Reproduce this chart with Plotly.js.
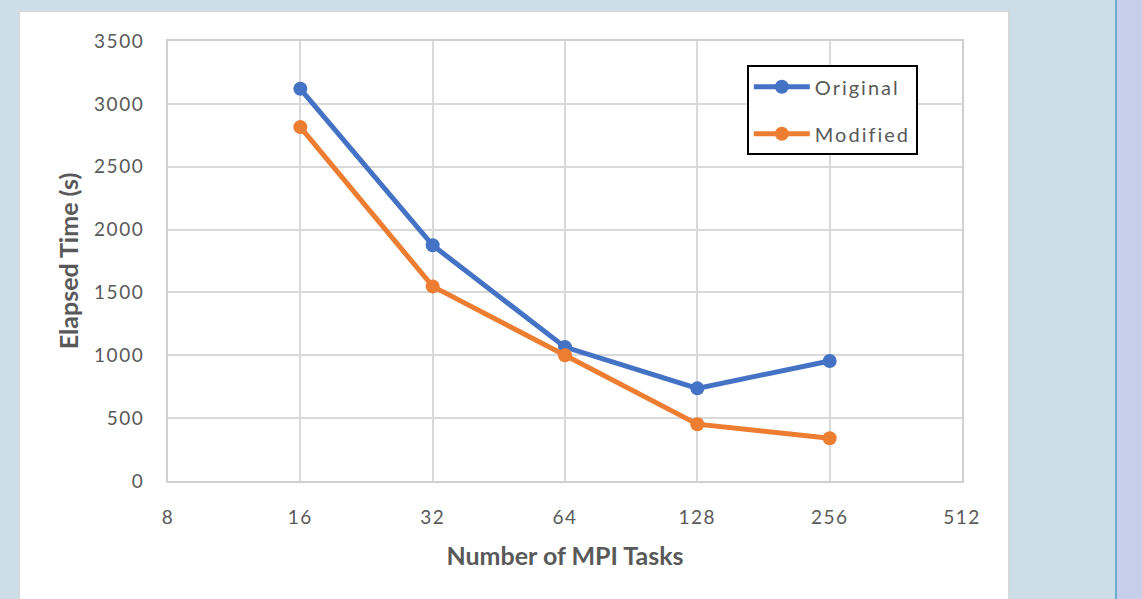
<!DOCTYPE html>
<html>
<head>
<meta charset="utf-8">
<script src="https://cdn.plot.ly/plotly-3.0.1.min.js"></script>
<style>
  html, body { margin: 0; padding: 0; }
  body { width: 1142px; height: 599px; background: #cddee8; position: relative; overflow: hidden; }
  #panel { position: absolute; left: 19px; top: 11px; width: 990px; height: 600px; background: #ffffff; border: 1px solid #d6d6d6; box-sizing: border-box; }
  #edge { position: absolute; left: 1115px; top: 0; width: 2px; height: 599px; background: #6aaed0; }
  #side { position: absolute; left: 1117px; top: 0; width: 25px; height: 599px; background: #c5cfea; }
  #chart { position: absolute; left: 0; top: 0; width: 1142px; height: 599px; }
  .xtick text, .ytick text { letter-spacing: 1.5px; }
  .legendtext { letter-spacing: 2px; }
</style>
</head>
<body>
<div id="panel"></div>
<div id="edge"></div>
<div id="side"></div>
<div id="chart"></div>
<script>
const tasks = [16, 32, 64, 128, 256];
const original = [3120, 1875, 1065, 737, 955];
const modified = [2815, 1548, 1000, 452, 340];
const xTickVals = [8, 16, 32, 64, 128, 256, 512];
const xTickText = ['8', '16', '32', '64', '128', '256', '512'];
const yTickVals = [0, 500, 1000, 1500, 2000, 2500, 3000, 3500];

const gray = '#595959';
const fontFam = 'Lato, "Open Sans", sans-serif';

const traces = [
  { x: tasks, y: original, name: 'Original', type: 'scatter', mode: 'lines+markers',
    line: { color: '#4472c4', width: 5 }, marker: { color: '#4472c4', size: 14 }, legendgroup: 'a' },
  { x: tasks, y: modified, name: 'Modified', type: 'scatter', mode: 'lines+markers',
    line: { color: '#ed7d31', width: 5 }, marker: { color: '#ed7d31', size: 14 }, legendgroup: 'b' }
];

const layout = {
  width: 1142, height: 599,
  paper_bgcolor: 'rgba(0,0,0,0)', plot_bgcolor: '#ffffff',
  margin: { l: 168, r: 180, t: 41, b: 118 },
  font: { family: fontFam, color: gray, size: 19 },
  showlegend: true,
  legend: {
    x: 0.729, y: 0.945, xanchor: 'left', yanchor: 'top',
    bordercolor: '#000000', borderwidth: 2, bgcolor: '#ffffff',
    font: { family: fontFam, color: gray, size: 20 },
    traceorder: 'grouped', tracegroupgap: 18, itemwidth: 56
  },
  xaxis: {
    type: 'log', range: [Math.log10(8), Math.log10(512)],
    tickvals: xTickVals, ticktext: xTickText,
    showgrid: true, gridcolor: '#d9d9d9', gridwidth: 2,
    showline: true, linecolor: '#d0d0d0', linewidth: 2, mirror: true,
    zeroline: false, ticks: '', ticklabelstandoff: 18,
    tickfont: { family: fontFam, color: gray, size: 19 },
    title: { text: '<b>Number of MPI Tasks</b>', font: { family: fontFam, color: gray, size: 25 }, standoff: 21 }
  },
  yaxis: {
    range: [0, 3500], tickvals: yTickVals,
    showgrid: true, gridcolor: '#d9d9d9', gridwidth: 2,
    showline: true, linecolor: '#d0d0d0', linewidth: 2, mirror: true,
    zeroline: false, ticks: '', ticklabelstandoff: 18,
    tickfont: { family: fontFam, color: gray, size: 19 },
    title: { text: '<b>Elapsed Time (s)</b>', font: { family: fontFam, color: gray, size: 25 }, standoff: 8 }
  }
};

Plotly.newPlot('chart', traces, layout, { staticPlot: true, displayModeBar: false });
</script>
</body>
</html>
